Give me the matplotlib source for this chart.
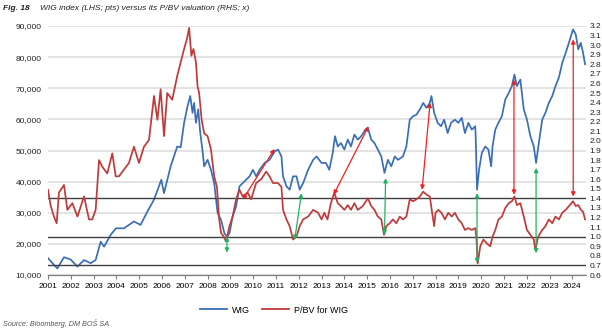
import matplotlib
matplotlib.use("Agg")
import matplotlib.pyplot as plt
from matplotlib.ticker import FuncFormatter, MultipleLocator

plt.rcParams["font.family"] = ["Liberation Sans", "DejaVu Sans"]

# WIG index (LHS, pts), decimal years
wig_t = [
    2001.00, 2001.41, 2001.70, 2001.99, 2002.29, 2002.58, 2002.87, 2003.09, 2003.31, 2003.46,
    2003.75, 2003.98, 2004.33, 2004.77, 2005.06, 2005.36, 2005.65, 2005.97, 2006.09, 2006.38,
    2006.67, 2006.82, 2006.97, 2007.12, 2007.24, 2007.34, 2007.41, 2007.49, 2007.59, 2007.68,
    2007.79, 2007.85, 2008.00, 2008.15, 2008.29, 2008.44, 2008.59, 2008.74, 2008.85, 2008.96,
    2009.10, 2009.25, 2009.40, 2009.54, 2009.69, 2009.84, 2009.99, 2010.13, 2010.28, 2010.50,
    2010.72, 2010.94, 2011.09, 2011.24, 2011.31, 2011.46, 2011.60, 2011.75, 2011.90, 2012.04,
    2012.19, 2012.41, 2012.63, 2012.78, 2013.00, 2013.19, 2013.34, 2013.49, 2013.59, 2013.71,
    2013.85, 2014.00, 2014.15, 2014.29, 2014.44, 2014.59, 2014.74, 2014.88, 2015.03, 2015.18,
    2015.32, 2015.47, 2015.62, 2015.76, 2015.91, 2016.06, 2016.21, 2016.35, 2016.57, 2016.72,
    2016.87, 2017.01, 2017.16, 2017.31, 2017.46, 2017.60, 2017.75, 2017.82, 2017.94, 2018.09,
    2018.24, 2018.38, 2018.53, 2018.68, 2018.85, 2019.00, 2019.15, 2019.29, 2019.44, 2019.59,
    2019.74, 2019.76, 2019.82, 2019.91, 2020.03, 2020.18, 2020.32, 2020.44, 2020.50, 2020.62,
    2020.76, 2020.91, 2021.06, 2021.21, 2021.35, 2021.46, 2021.57, 2021.72, 2021.87, 2022.01,
    2022.16, 2022.31, 2022.41, 2022.53, 2022.68, 2022.82, 2022.97, 2023.12, 2023.26, 2023.41,
    2023.56, 2023.71, 2023.85, 2024.03, 2024.15, 2024.26, 2024.37, 2024.47, 2024.56,
]
wig = [
    15400, 12100, 15700, 15000, 12700, 14800, 13800, 14800, 20700, 19100,
    22900, 25000, 25000, 27200, 26100, 30400, 34200, 40600, 36300, 44900,
    51300, 51000, 58900, 64200, 67500, 62100, 65300, 58900, 63200, 55600,
    49200, 44900, 47000, 43800, 39500, 29900, 27700, 23400, 22300, 23400,
    28800, 32000, 38500, 39500, 40600, 41700, 43800, 41700, 43800, 46000,
    47000, 49700, 50300, 48100, 41700, 38500, 37400, 41700, 41700, 37400,
    39500, 43800, 47000, 48100, 46000, 46000, 43800, 49200, 54600, 51300,
    52400, 50300, 53500, 51300, 55100, 53500, 54600, 56200, 57300, 53500,
    52400, 50300, 48100, 42800, 47000, 44900, 48100, 47000, 48100, 51300,
    59900, 61000, 61500, 63200, 65300, 63700, 65300, 67500, 62100, 58900,
    57800, 59900, 55600, 58900, 59900, 58900, 60500, 55600, 58900, 56700,
    57800, 54600, 37400, 43800, 49200, 51300, 50300, 44900, 51300, 56700,
    58900, 61000, 66400, 68500, 70700, 74400, 70700, 72800, 63200, 59900,
    54600, 51300, 46000, 52400, 59900, 62100, 65300, 67500, 70700, 73400,
    78200, 81400, 84600, 88900, 87300, 82500, 84600, 81400, 77700,
]

# P/BV for WIG (RHS, x)
pbv_t = [
    2001.00, 2001.12, 2001.26, 2001.38, 2001.48, 2001.70, 2001.85, 2002.07, 2002.29, 2002.58,
    2002.80, 2002.94, 2003.09, 2003.24, 2003.38, 2003.60, 2003.82, 2003.97, 2004.11, 2004.33,
    2004.55, 2004.77, 2004.99, 2005.21, 2005.43, 2005.65, 2005.80, 2005.94, 2006.09, 2006.23,
    2006.45, 2006.67, 2006.82, 2006.97, 2007.09, 2007.19, 2007.29, 2007.38, 2007.49, 2007.56,
    2007.63, 2007.74, 2007.85, 2008.00, 2008.15, 2008.29, 2008.41, 2008.51, 2008.59, 2008.71,
    2008.81, 2008.96, 2009.10, 2009.25, 2009.40, 2009.54, 2009.76, 2009.91, 2010.13, 2010.35,
    2010.57, 2010.72, 2010.87, 2011.09, 2011.24, 2011.31, 2011.46, 2011.60, 2011.75, 2011.90,
    2012.04, 2012.19, 2012.41, 2012.63, 2012.85, 2013.00, 2013.12, 2013.26, 2013.41, 2013.56,
    2013.71, 2013.85, 2014.00, 2014.15, 2014.29, 2014.44, 2014.59, 2014.81, 2015.03, 2015.18,
    2015.32, 2015.47, 2015.62, 2015.74, 2015.84, 2015.99, 2016.13, 2016.28, 2016.43, 2016.57,
    2016.72, 2016.87, 2017.01, 2017.16, 2017.31, 2017.46, 2017.60, 2017.75, 2017.85, 2017.94,
    2018.00, 2018.12, 2018.26, 2018.41, 2018.56, 2018.71, 2018.85, 2019.00, 2019.15, 2019.29,
    2019.44, 2019.59, 2019.74, 2019.79, 2019.85, 2019.96, 2020.10, 2020.25, 2020.40, 2020.50,
    2020.62, 2020.76, 2020.91, 2021.06, 2021.21, 2021.35, 2021.46, 2021.57, 2021.72, 2021.87,
    2022.01, 2022.16, 2022.31, 2022.38, 2022.50, 2022.68, 2022.82, 2022.97, 2023.12, 2023.26,
    2023.41, 2023.56, 2023.71, 2023.85, 2024.03, 2024.15, 2024.26, 2024.38, 2024.47, 2024.56,
]
pbv = [
    1.49, 1.32, 1.21, 1.14, 1.46, 1.54, 1.28, 1.35, 1.21, 1.42,
    1.18, 1.18, 1.28, 1.80, 1.73, 1.66, 1.87, 1.63, 1.63, 1.70,
    1.77, 1.94, 1.77, 1.94, 2.01, 2.47, 2.22, 2.54, 2.05, 2.50,
    2.43, 2.68, 2.82, 2.96, 3.06, 3.18, 2.89, 2.96, 2.82, 2.57,
    2.50, 2.22, 2.08, 2.05, 1.91, 1.63, 1.52, 1.18, 1.04, 1.00,
    0.95, 1.11, 1.21, 1.39, 1.49, 1.42, 1.46, 1.39, 1.56, 1.60,
    1.68, 1.63, 1.56, 1.56, 1.52, 1.28, 1.18, 1.11, 0.97, 1.00,
    1.11, 1.18, 1.21, 1.28, 1.25, 1.18, 1.25, 1.18, 1.35, 1.46,
    1.35, 1.32, 1.28, 1.33, 1.28, 1.35, 1.28, 1.32, 1.40, 1.32,
    1.28, 1.21, 1.18, 1.02, 1.11, 1.14, 1.18, 1.14, 1.21, 1.18,
    1.21, 1.39, 1.37, 1.39, 1.42, 1.47, 1.44, 1.42, 1.25, 1.11,
    1.25, 1.28, 1.25, 1.18, 1.25, 1.21, 1.25, 1.18, 1.14, 1.07,
    1.09, 1.07, 1.09, 1.00, 0.72, 0.90, 0.97, 0.93, 0.90, 1.00,
    1.07, 1.18, 1.21, 1.30, 1.35, 1.37, 1.42, 1.33, 1.35, 1.21,
    1.07, 1.02, 0.97, 0.86, 1.00, 1.07, 1.11, 1.18, 1.14, 1.21,
    1.18, 1.25, 1.28, 1.32, 1.37, 1.32, 1.33, 1.28, 1.26, 1.18,
]

# valuation bands (RHS)
pbv_levels = [1.4, 1.0, 0.7]

# arrows between WIG and P/BV turning points, given on the LHS scale: (x0, y0, x1, y1, colour)
arrows = [
    (2008.85, 22400, 2008.85, 17200, "green"),
    (2009.54, 34200, 2010.94, 50500, "red"),
    (2012.12, 36300, 2011.82, 21300, "green"),
    (2013.53, 35800, 2015.06, 57800, "red"),
    (2015.81, 41100, 2015.76, 22900, "green"),
    (2017.76, 65300, 2017.41, 37400, "red"),
    (2019.82, 36300, 2019.82, 13800, "green"),
    (2021.44, 72800, 2021.44, 35800, "red"),
    (2022.41, 44400, 2022.41, 17000, "green"),
    (2024.04, 85700, 2024.04, 35200, "red"),
]
arrow_colours = {"red": "#F02020", "green": "#1DB462"}

years = list(range(2001, 2025))

BLUE = "#3A6EB5"
RED = "#BF3A3A"

fig = plt.figure(figsize=(6.02, 3.32), dpi=100)
ax = fig.add_axes([48 / 602, 1 - 275 / 332, 538 / 602, 249 / 332])
ax2 = ax.twinx()

ax.plot(wig_t, wig, color=BLUE, lw=1.25, zorder=3)
ax.set_xlim(2001, 2024.6)
ax.set_ylim(10000, 90000)
ax.yaxis.set_major_locator(MultipleLocator(10000))
ax.yaxis.set_major_formatter(FuncFormatter(lambda v, p: f"{v:,.0f}"))
ax.grid(axis="y", color="#E0E0E0", lw=1.3)
ax.set_axisbelow(True)
ax.set_xticks(years)
ax.tick_params(axis="x", direction="out", length=3, width=0.8, color="#808080",
               labelsize=6, pad=3)
ax.tick_params(axis="y", length=0, labelsize=6, pad=4.5, labelcolor="#222222")
for s in ["top", "right", "left"]:
    ax.spines[s].set_visible(False)
ax.spines["bottom"].set_color("#808080")
ax.spines["bottom"].set_linewidth(0.9)

ax2.plot(pbv_t, pbv, color=RED, lw=1.25, zorder=3)
ax2.set_ylim(0.6, 3.2)
ax2.yaxis.set_major_locator(MultipleLocator(0.1))
ax2.yaxis.set_major_formatter(FuncFormatter(lambda v, p: f"{v:.1f}"))
ax2.tick_params(axis="y", length=0, labelsize=6, pad=2.5, labelcolor="#222222")
for s in ["top", "right", "left", "bottom"]:
    ax2.spines[s].set_visible(False)
for lvl in pbv_levels:
    ax2.axhline(lvl, color="#404040", lw=1.0, zorder=2)

for x0, y0, x1, y1, c in arrows:
    ax2.annotate("", xy=(x1, y1), xytext=(x0, y0),
                 xycoords=ax.transData, textcoords=ax.transData,
                 arrowprops=dict(arrowstyle="<|-|>", color=arrow_colours[c], lw=0.9,
                                 mutation_scale=6, shrinkA=0, shrinkB=0),
                 zorder=5)

h1, = ax.plot([], [], color=BLUE, lw=1.3)
h2, = ax.plot([], [], color=RED, lw=1.3)
fig.legend([h1, h2], ["WIG", "P/BV for WIG"], loc="center", bbox_to_anchor=(0.455, 0.066),
           ncol=2, frameon=False, fontsize=6.5, handlelength=3.0, columnspacing=1.4,
           handletextpad=0.5)

fig.text(0.005, 0.975, "Fig. 18", fontsize=6, style="italic", weight="bold",
         va="center", color="#222222")
fig.text(0.066, 0.975, "WIG index (LHS; pts) versus its P/BV valuation (RHS; x)",
         fontsize=6, style="italic", va="center", color="#222222")
fig.text(0.005, 0.027, "Source: Bloomberg, DM BOŚ SA", fontsize=5.2, style="italic",
         va="center", color="#555555")

fig.savefig("out.png", dpi=100)
